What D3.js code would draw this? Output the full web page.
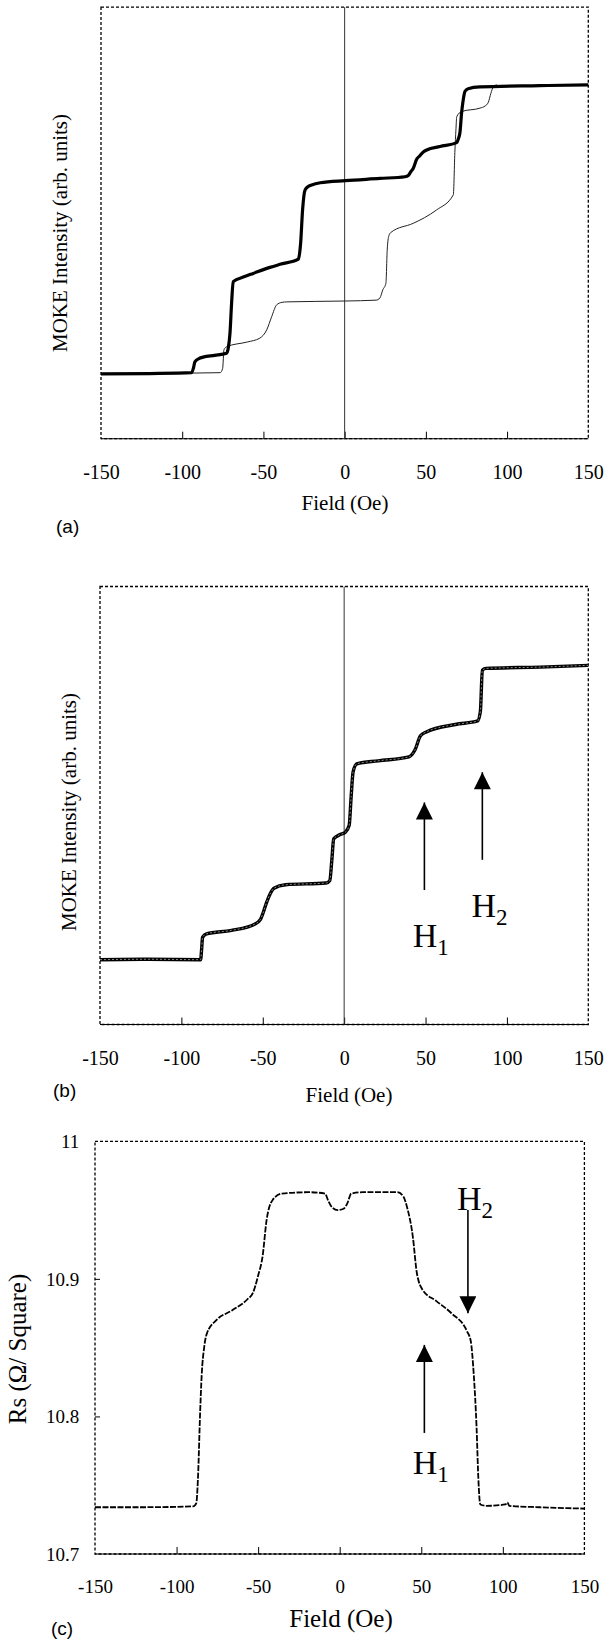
<!DOCTYPE html>
<html>
<head>
<meta charset="utf-8">
<script src="https://cdn.jsdelivr.net/npm/d3@7/dist/d3.min.js"></script>
<style>
  html, body { margin: 0; padding: 0; background: #fff; }
  svg { display: block; }
</style>
</head>
<body>
<svg id="chart" width="605" height="1640"></svg>
<script>
// ---------------- DATA ----------------
const fieldTicks = [-150, -100, -50, 0, 50, 100, 150];
const rsTicks = [10.7, 10.8, 10.9, 11];

// Panel (a): MOKE loop, thick (dotted) branch  [field Oe, intensity arb.]
const aThick = [
  [-150, 15.0], [-120, 15.1], [-94.2, 15.3], [-93.0, 16.5], [-92.2, 17.8], [-89.5, 18.6],
  [-87.1, 18.9], [-80, 19.3], [-72.7, 19.8], [-71.7, 20.9], [-70.6, 24.4], [-69.6, 31.4],
  [-68.6, 36.4], [-62, 37.5], [-56.3, 38.3], [-46, 39.7], [-39.8, 40.4], [-28.5, 41.6],
  [-27.5, 43.7], [-27.1, 45.3], [-25.9, 53.0], [-24.4, 57.6], [-22.2, 58.5], [-20.3, 58.8],
  [-15, 59.3], [0.5, 59.8], [21.7, 60.3], [37.2, 60.7], [39.2, 61.0], [40.8, 61.9],
  [42.2, 62.6], [44.4, 64.8], [46.4, 65.6], [48, 66.3], [50.5, 66.9], [58.7, 67.7],
  [69.0, 68.6], [70.0, 69.5], [71.0, 71.0], [72.0, 75.5], [72.7, 77.7], [74.1, 80.5],
  [76, 81.1], [83.3, 81.5], [120, 81.8], [150, 82.0]
];
// Panel (a): thin branch
const aThin = [
  [-150, 15.0], [-76.6, 15.3], [-75.1, 16.3], [-74.3, 20.6], [-72.7, 21.3], [-60, 22.4],
  [-52.2, 23.3], [-48.0, 25.2], [-44.9, 28.3], [-41.9, 31.0], [-38.5, 31.6], [-35.7, 31.7],
  [0.2, 31.9], [19.4, 32.1], [21.7, 32.6], [23.5, 34.5], [25.4, 36.0], [26.2, 43.7],
  [27.2, 47.0], [28.5, 47.8], [42.2, 49.9], [49.1, 51.2], [56.6, 53.0], [66.9, 56.5],
  [67.9, 66.9], [68.5, 71.5], [69.0, 74.6], [72.0, 75.8], [83.3, 76.6], [86.5, 77.1],
  [88.4, 77.9], [90, 80], [91.5, 81.5], [93.6, 82.0]
];
// Panel (b): MOKE curve
const bCurve = [
  [-150, 14.8], [-120, 14.9], [-88.2, 14.8], [-87.5, 17.5], [-87.0, 19.9], [-84.6, 20.7],
  [-69.2, 21.5], [-55.0, 22.9], [-51.4, 24.0], [-49.5, 25.8], [-47.9, 27.6], [-45.5, 29.8],
  [-43.1, 31.1], [-36.0, 31.9], [-11.1, 32.3], [-8.8, 32.9], [-7.6, 37.4], [-6.4, 42.4],
  [-2.8, 43.3], [0.7, 43.9], [3.1, 45.5], [4.3, 52.0], [5.5, 57.7], [7.8, 59.5],
  [20.9, 60.2], [39.8, 61.1], [43.4, 62.6], [46.9, 65.9], [50.5, 66.8], [68.3, 68.5],
  [82.0, 69.3], [83.7, 71.5], [84.9, 80.9], [87.2, 81.3], [120.4, 81.6], [150, 82.0]
];
// Panel (c): sheet resistance Rs (ohm/square)
const cCurve = [
  [-150, 10.734], [-120, 10.734], [-89.8, 10.7346], [-87.9, 10.737], [-86.9, 10.7546],
  [-85.5, 10.8047], [-84.6, 10.830], [-83.1, 10.850], [-81.5, 10.860], [-75.6, 10.870],
  [-66.1, 10.877], [-56.7, 10.885], [-53.1, 10.890], [-50.1, 10.902], [-47.2, 10.917],
  [-44.9, 10.942], [-41.3, 10.957], [-35.4, 10.962], [-18.9, 10.963], [-9.0, 10.962],
  [-7.1, 10.957], [-4.7, 10.952], [-1.2, 10.950], [2.4, 10.951], [4.7, 10.955],
  [7.1, 10.962], [14.2, 10.963], [35.4, 10.963], [39.0, 10.960], [41.3, 10.952],
  [44.9, 10.930], [47.2, 10.905], [50.8, 10.892], [59.1, 10.884], [68.5, 10.875],
  [78.0, 10.862], [80.3, 10.855], [82.2, 10.830], [83.9, 10.792], [85.0, 10.7546],
  [86.2, 10.736], [89.8, 10.735], [101.6, 10.736], [102.8, 10.7375], [104.0, 10.735],
  [122.8, 10.734], [150, 10.733]
];
// Annotation arrows [field, tail value, head value] and labels [field, value, subscript]
const bArrows = [[49.3, 30.7, 50.7], [84.9, 37.6, 57.6]];
const bLabels = [[42.1, 17.6, "1"], [78.2, 24.6, "2"]];
const cArrows = [[78.6, 10.950, 10.875], [51.9, 10.788, 10.852]];
const cLabels = [[71.9, 10.950, "2"], [44.8, 10.758, "1"]];

// ---------------- DRAWING ----------------
const svg = d3.select("#chart");
const SERIF = "'Liberation Serif', 'Times New Roman', Times, serif";
const SANS = "'Liberation Sans', Arial, Helvetica, sans-serif";

function font(sel, fam, size) {
  return sel.style("font-family", fam).style("font-size", size + "px").attr("fill", "#000");
}

svg.append("defs").append("marker")
  .attr("id", "ah").attr("viewBox", "0 0 10 10").attr("refX", 10).attr("refY", 5)
  .attr("markerUnits", "userSpaceOnUse").attr("markerWidth", 20).attr("markerHeight", 17)
  .attr("orient", "auto")
  .append("path").attr("d", "M0,0 L10,5 L0,10 Z").attr("fill", "#000");

function panel(cfg) {
  const g = svg.append("g");
  const x = d3.scaleLinear().domain([-150, 150]).range([cfg.left, cfg.right]);
  const y = d3.scaleLinear().domain(cfg.ydom).range([cfg.bottom, cfg.top]);

  // x axis ticks (inward) + labels
  const xAxis = d3.axisBottom(x).tickValues(fieldTicks).tickSize(-7).tickPadding(0);
  const ax = g.append("g").attr("transform", `translate(0,${cfg.bottom})`).call(xAxis);
  ax.select(".domain").remove();
  ax.selectAll(".tick line").attr("stroke", "#000").attr("stroke-width", 1)
    .filter(d => d === -150 || d === 150).remove();
  font(ax.selectAll(".tick text"), SERIF, cfg.tickFont)
    .attr("dy", null).attr("y", cfg.tickBase - cfg.bottom)
    .text(d => d < 0 ? "-" + Math.abs(d) : String(d));

  if (cfg.yticks) {
    const yAxis = d3.axisLeft(y).tickValues(cfg.yticks).tickSize(-5).tickFormat(d => d3.format("~g")(d)).tickPadding(0);
    const ay = g.append("g").attr("transform", `translate(${cfg.left},0)`).call(yAxis);
    ay.select(".domain").remove();
    ay.selectAll(".tick line").attr("stroke", "#000").filter(d => d === 10.7 || d === 11).remove();
    font(ay.selectAll(".tick text"), SERIF, cfg.tickFont)
      .attr("x", cfg.ytickRight - cfg.left).attr("dy", "0.34em");
  }

  // frame
  g.append("rect").attr("x", cfg.left).attr("y", cfg.top)
    .attr("width", cfg.right - cfg.left).attr("height", cfg.bottom - cfg.top)
    .attr("fill", "none").attr("stroke", "#000").attr("stroke-width", 1.3).attr("stroke-dasharray", "3,2");
  g.append("line").attr("x1", cfg.left).attr("x2", cfg.right).attr("y1", cfg.bottom).attr("y2", cfg.bottom)
    .attr("stroke", "#000").attr("stroke-width", 1.1);

  if (cfg.zeroLine) {
    g.append("line").attr("x1", x(0)).attr("x2", x(0)).attr("y1", cfg.top).attr("y2", cfg.bottom)
      .attr("stroke", "#333").attr("stroke-width", 1);
  }

  // titles
  font(g.append("text"), SERIF, cfg.titleFont)
    .attr("x", cfg.xTitleX).attr("y", cfg.xTitleBase).attr("text-anchor", "middle").text("Field (Oe)");
  font(g.append("text"), SERIF, cfg.yTitleFont)
    .attr("transform", `translate(${cfg.yTitleX},${cfg.yTitleY}) rotate(-90)`)
    .attr("text-anchor", "middle").text(cfg.yTitle);
  font(g.append("text"), SANS, 19).attr("x", cfg.tagX).attr("y", cfg.tagBase).text(cfg.tag);

  return { g, x, y };
}

const line = (x, y) => d3.line().x(d => x(d[0])).y(d => y(d[1])).curve(d3.curveMonotoneX);

function arrows(p, arr, labs) {
  arr.forEach(a => {
    p.g.append("line").attr("x1", p.x(a[0])).attr("x2", p.x(a[0]))
      .attr("y1", p.y(a[1])).attr("y2", p.y(a[2]))
      .attr("stroke", "#000").attr("stroke-width", 1.6).attr("marker-end", "url(#ah)");
  });
  labs.forEach(l => {
    const t = font(p.g.append("text"), SERIF, 34).attr("x", p.x(l[0])).attr("y", p.y(l[1]));
    t.append("tspan").text("H");
    t.append("tspan").style("font-size", "23px").attr("dy", 8).text(l[2]);
  });
}

// Panel (a)
const pa = panel({
  left: 101, right: 588.3, top: 7.1, bottom: 438.7, ydom: [0, 100],
  tickFont: 20, tickBase: 479, titleFont: 21, xTitleX: 345, xTitleBase: 510,
  yTitle: "MOKE Intensity (arb. units)", yTitleFont: 21, yTitleX: 67, yTitleY: 233,
  tag: "(a)", tagX: 56, tagBase: 533, zeroLine: true
});
pa.g.append("path").datum(aThin).attr("d", line(pa.x, pa.y))
  .attr("fill", "none").attr("stroke", "#222").attr("stroke-width", 1);
pa.g.append("path").datum(aThick).attr("d", line(pa.x, pa.y))
  .attr("fill", "none").attr("stroke", "#000").attr("stroke-width", 3.2);

// Panel (b)
const pb = panel({
  left: 100, right: 588.3, top: 586.5, bottom: 1024.5, ydom: [0, 100],
  tickFont: 20, tickBase: 1065, titleFont: 21, xTitleX: 349, xTitleBase: 1102,
  yTitle: "MOKE Intensity (arb. units)", yTitleFont: 21, yTitleX: 76, yTitleY: 812,
  tag: "(b)", tagX: 53, tagBase: 1097, zeroLine: true
});
pb.g.append("path").datum(bCurve).attr("d", line(pb.x, pb.y))
  .attr("fill", "none").attr("stroke", "#000").attr("stroke-width", 3.4);
pb.g.append("path").datum(bCurve).attr("d", line(pb.x, pb.y))
  .attr("fill", "none").attr("stroke", "#999").attr("stroke-width", 0.9).attr("stroke-dasharray", "2,2");
arrows(pb, bArrows, bLabels);

// Panel (c)
const pc = panel({
  left: 95, right: 584.4, top: 1141.3, bottom: 1554, ydom: [10.7, 11], yticks: rsTicks, ytickRight: 79.3,
  tickFont: 19, tickBase: 1592.7, titleFont: 25, xTitleX: 341, xTitleBase: 1627,
  yTitle: "Rs (\u03A9/ Square)", yTitleFont: 25, yTitleX: 26, yTitleY: 1349,
  tag: "(c)", tagX: 51, tagBase: 1635, zeroLine: false
});
pc.g.append("path").datum(cCurve).attr("d", line(pc.x, pc.y))
  .attr("fill", "none").attr("stroke", "#000").attr("stroke-width", 1.8).attr("stroke-dasharray", "6,1.5");
arrows(pc, cArrows, cLabels);
</script>
</body>
</html>
